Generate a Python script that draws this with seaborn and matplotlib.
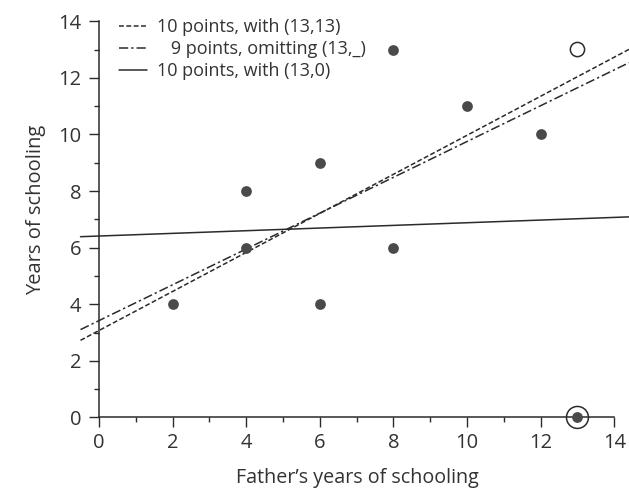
import numpy as np
import pandas as pd
import matplotlib
matplotlib.use("Agg")
import matplotlib.pyplot as plt
import seaborn as sns
from matplotlib.lines import Line2D

# ---- data ----
father_years = [2, 4, 4, 6, 6, 8, 8, 10, 12]
child_years = [4, 6, 8, 9, 4, 13, 6, 11, 10]
extra_point_open = (13, 13)     # hollow point
extra_point_zero = (13, 0)      # circled filled point

line_labels = ["10 points, with (13,13)",
               "   9 points, omitting (13,_)",
               "10 points, with (13,0)"]
line_intercepts = [3.07, 3.42, 6.41]
line_slopes = [0.69, 0.633, 0.047]
line_styles = [(0, (3.2, 1.6)), (0, (6, 2, 1.5, 2)), "-"]
line_x_range = [-0.5, 14.4]

x_ticks = list(range(0, 15, 2))
y_ticks = list(range(0, 15, 2))
x_label = "Father\u2019s years of schooling"
y_label = "Years of schooling"

sns.set_theme(style="ticks")
plt.rcParams["font.family"] = ["Open Sans", "DejaVu Sans"]
ink = "#2b2b2b"
text_col = "#333333"
dot_col = "#4a4a4a"

fig = plt.figure(figsize=(6.29, 4.94), dpi=100)
ax = fig.add_axes([0.128, 0.155, 0.872, 0.802])

# fitted lines
handles = []
for lab, a, b, ls in zip(line_labels, line_intercepts, line_slopes, line_styles):
    xs = np.array(line_x_range)
    df_line = pd.DataFrame({"x": xs, "y": a + b * xs})
    sns.lineplot(data=df_line, x="x", y="y", ax=ax, color=ink, lw=1.1,
                 linestyle=ls, legend=False, clip_on=False)
    handles.append(Line2D([0], [0], color=ink, lw=1.1, linestyle=ls))

# points
df_pts = pd.DataFrame({"x": father_years, "y": child_years})
sns.scatterplot(data=df_pts, x="x", y="y", ax=ax, s=60, color=dot_col,
                edgecolor=dot_col, linewidth=0, zorder=5, clip_on=False)
sns.scatterplot(x=[extra_point_zero[0]], y=[extra_point_zero[1]], ax=ax, s=60,
                color=dot_col, edgecolor=dot_col, linewidth=0, zorder=6, clip_on=False)
sns.scatterplot(x=[extra_point_zero[0]], y=[extra_point_zero[1]], ax=ax, s=250,
                facecolor="none", edgecolor=ink, linewidth=1.1, zorder=6, clip_on=False)
sns.scatterplot(x=[extra_point_open[0]], y=[extra_point_open[1]], ax=ax, s=105,
                facecolor="none", edgecolor=ink, linewidth=1.1, zorder=6, clip_on=False)

ax.set_xlim(line_x_range[0], line_x_range[1])
ax.set_ylim(0, 14)
ax.set_xticks(x_ticks)
ax.set_yticks(y_ticks)
ax.set_xticks(range(1, 14, 2), minor=True)
ax.set_yticks(range(1, 14, 2), minor=True)

for s in ["top", "right"]:
    ax.spines[s].set_visible(False)
ax.spines["left"].set_position(("data", 0))
ax.spines["left"].set_bounds(0, 14)
ax.spines["bottom"].set_bounds(0, 14)
for s in ["left", "bottom"]:
    ax.spines[s].set_color(ink)
    ax.spines[s].set_linewidth(1.1)

ax.tick_params(axis="both", which="major", length=7.5, width=1.0, color=ink,
               labelsize=14.5, labelcolor=text_col, direction="out")
ax.tick_params(axis="both", which="minor", length=3.5, width=1.0, color=ink,
               direction="out")
ax.tick_params(axis="y", which="major", pad=5)
ax.tick_params(axis="x", which="major", pad=4)

ax.set_xlabel(x_label, fontsize=14.2, color=text_col)
ax.set_ylabel(y_label, fontsize=14.5, color=text_col)
ax.xaxis.set_label_coords(0.504, -0.127)
ax.yaxis.set_label_coords(-0.062, 0.524)

leg = ax.legend(handles, line_labels, loc="upper left",
                bbox_to_anchor=(0.057, 1.026), frameon=False, fontsize=13,
                handlelength=1.55, handletextpad=0.55, labelspacing=0.22,
                borderaxespad=0, labelcolor=text_col)

fig.savefig("out.png", dpi=100)
